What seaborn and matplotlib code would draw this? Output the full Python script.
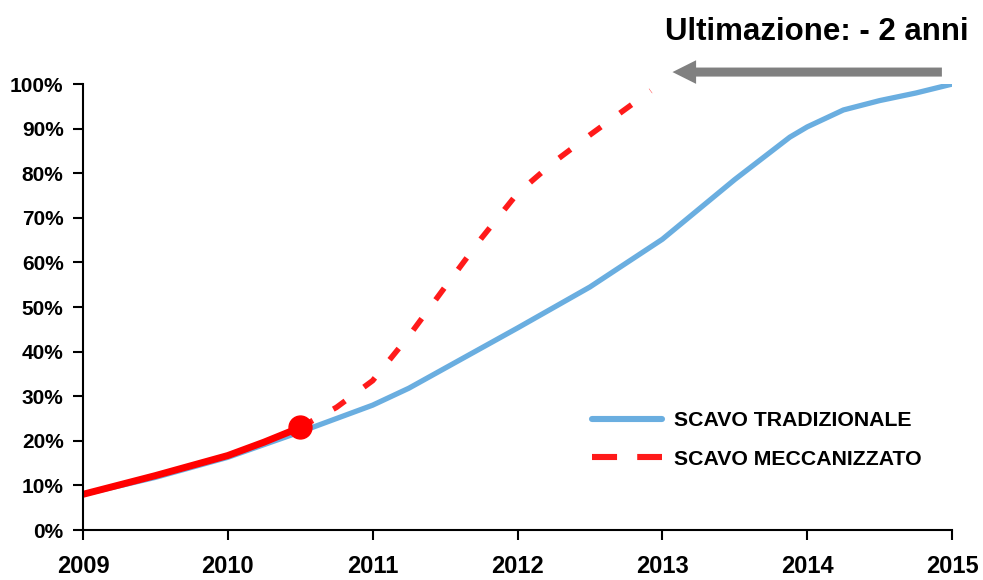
import matplotlib
matplotlib.use("Agg")
import matplotlib.pyplot as plt
from matplotlib.lines import Line2D
from matplotlib.ticker import PercentFormatter
import seaborn as sns
import pandas as pd

# dati
anni_trad = [2009, 2009.5, 2010, 2010.5, 2011, 2011.25, 2012, 2012.5, 2013,
             2013.5, 2013.88, 2014, 2014.25, 2014.5, 2014.75, 2015]
avanz_trad = [0.08, 0.118, 0.163, 0.22, 0.28, 0.318, 0.453, 0.545, 0.652,
              0.786, 0.881, 0.904, 0.942, 0.963, 0.98, 1.0]

anni_mecc = [2010.5, 2010.75, 2011, 2011.25, 2011.5, 2011.75, 2012, 2012.25,
             2012.5, 2012.75, 2012.92]
avanz_mecc = [0.23, 0.275, 0.335, 0.435, 0.545, 0.654, 0.755, 0.825,
              0.886, 0.945, 0.985]

anni_reale = [2009, 2009.5, 2010, 2010.25, 2010.5]
avanz_reale = [0.08, 0.122, 0.167, 0.197, 0.23]

anni_ticks = [2009, 2010, 2011, 2012, 2013, 2014, 2015]
freccia_da, freccia_a, freccia_y = 2014.93, 2013.07, 1.027

titolo = "Ultimazione: - 2 anni"
etichette = ["SCAVO TRADIZIONALE", "SCAVO MECCANIZZATO"]

BLU = "#6aaee0"
ROSSO = "#ff1a1a"

sns.set_style("white")
plt.rcParams['font.family'] = ['Liberation Sans', 'DejaVu Sans']
plt.rcParams['font.weight'] = 'bold'
plt.rcParams['text.color'] = 'black'
plt.rcParams['xtick.color'] = 'black'
plt.rcParams['ytick.color'] = 'black'

fig = plt.figure(figsize=(9.83, 5.80), dpi=100)
ax = fig.add_axes([0.0844, 0.0862, 0.8841, 0.7688])

df_trad = pd.DataFrame({'anno': anni_trad, 'avanzamento': avanz_trad})
df_mecc = pd.DataFrame({'anno': anni_mecc, 'avanzamento': avanz_mecc})
df_reale = pd.DataFrame({'anno': anni_reale, 'avanzamento': avanz_reale})

sns.lineplot(data=df_trad, x='anno', y='avanzamento', color=BLU, linewidth=3.8,
             ax=ax, sort=False)
sns.lineplot(data=df_mecc, x='anno', y='avanzamento', color=ROSSO, linewidth=4,
             ax=ax, sort=False).lines[-1].set_dashes((2.6, 4.2))
sns.lineplot(data=df_reale, x='anno', y='avanzamento', color='#ff0000',
             linewidth=5, ax=ax, sort=False)
ax.plot(anni_reale[-1], avanz_reale[-1], 'o', color='#ff0000', markersize=16.5)

ax.set_xlim(2009, 2015)
ax.set_ylim(0, 1)
ax.set_xticks(anni_ticks)
ax.set_xticklabels([str(a) for a in anni_ticks], fontsize=17, fontweight='bold',
                   color='black')
ax.set_yticks([i / 10 for i in range(11)])
ax.yaxis.set_major_formatter(PercentFormatter(1.0, decimals=0))
for lab in ax.get_yticklabels():
    lab.set_fontsize(15)
    lab.set_fontweight('bold')
    lab.set_color('black')
ax.tick_params(axis='x', direction='out', length=7, width=1.5, pad=11,
               bottom=True, colors='black')
ax.tick_params(axis='y', direction='out', length=7, width=1.5, pad=7,
               left=True, colors='black')
ax.set_xlabel('')
ax.set_ylabel('')
sns.despine(ax=ax)
for s in ['left', 'bottom']:
    ax.spines[s].set_linewidth(1.5)
    ax.spines[s].set_color('black')

# freccia grigia
ax.annotate('', xy=(freccia_a, freccia_y), xytext=(freccia_da, freccia_y),
            annotation_clip=False,
            arrowprops=dict(width=6.5, headwidth=17, headlength=17, shrink=0,
                            color='#808080', linewidth=0))

fig.text(0.985, 0.945, titolo, ha='right', va='center', fontsize=22.5,
         fontweight='bold', color='black')

maniglie = [Line2D([0], [0], color=BLU, linewidth=4.4),
            Line2D([0], [0], color=ROSSO, linewidth=4.4, dashes=(4.1, 3.3))]
leg = ax.legend(maniglie, etichette, loc='upper left', bbox_to_anchor=(0.586, 0.266),
                frameon=False, handlelength=3.3, handletextpad=0.55,
                labelspacing=0.9, borderpad=0, borderaxespad=0,
                prop={'weight': 'bold', 'size': 15.3})
for t in leg.get_texts():
    t.set_color('black')

fig.savefig('out.png', dpi=100)
